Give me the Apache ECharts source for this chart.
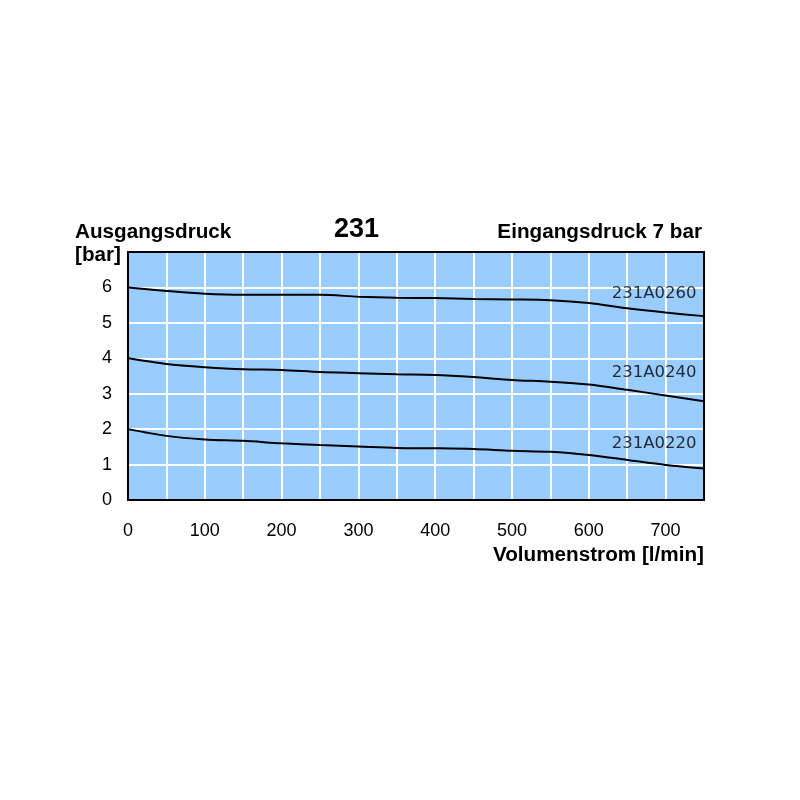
<!DOCTYPE html>
<html><head><meta charset="utf-8">
<script src="https://cdn.jsdelivr.net/npm/echarts@6/dist/echarts.min.js"></script>
<style>html,body{margin:0;padding:0;background:#fff}#c{width:800px;height:800px}</style>
</head><body><div id="c"></div>
<script>
const flow = [0,50,100,150,200,250,300,350,400,450,500,550,600,650,700,750];
const p0260 = [6.0,5.9,5.82,5.79,5.79,5.79,5.74,5.71,5.70,5.67,5.66,5.64,5.56,5.41,5.29,5.19];
const p0240 = [4.0,3.84,3.75,3.69,3.67,3.61,3.58,3.55,3.53,3.47,3.39,3.34,3.26,3.11,2.95,2.79];
const p0220 = [2.0,1.81,1.71,1.67,1.60,1.55,1.51,1.47,1.46,1.44,1.39,1.36,1.27,1.13,0.99,0.89];
const curveNames = ['231A0260','231A0240','231A0220'];
const labelX = [685,685,685];
const labelY = [5.82,3.60,1.58];

const F = 'Arial, "Liberation Sans", sans-serif';
const zip = ys => flow.map((x,i)=>[x,ys[i]]);
const lineSeries = (name, ys) => ({
  name, type:'line', data: zip(ys), smooth:0.3, symbol:'none',
  lineStyle:{color:'#000', width:2}, silent:true, z:3
});
const G = {left:128, top:252, width:576, height:248};
const chart = echarts.init(document.getElementById('c'));
chart.setOption({
  animation:false,
  backgroundColor:'#fff',
  grid:{left:G.left, top:G.top, width:G.width, height:G.height, show:true, backgroundColor:'#99CCFF', borderWidth:0},
  xAxis:{type:'value', min:0, max:750, interval:50,
    axisLine:{show:false}, axisTick:{show:false},
    splitLine:{show:true, lineStyle:{color:'#fff', width:2}},
    axisLabel:{margin:22, fontFamily:F, fontSize:18, color:'#000',
      formatter: v => (v % 100 === 0) ? String(v) : ''}},
  yAxis:{type:'value', min:0, max:7, interval:1,
    axisLine:{show:false}, axisTick:{show:false},
    splitLine:{show:true, lineStyle:{color:'#fff', width:2}},
    axisLabel:{margin:16, fontFamily:F, fontSize:18, color:'#000',
      formatter: v => v === 7 ? '' : String(v)}},
  graphic:[
    {type:'rect', shape:{x:G.left, y:G.top, width:G.width, height:G.height}, z:100,
     style:{fill:'none', stroke:'#000', lineWidth:2}, silent:true},
    {type:'text', left:75, top:222, style:{text:'Ausgangsdruck', font:'bold 20.7px '+F, fill:'#000'}},
    {type:'text', left:75, top:245, style:{text:'[bar]', font:'bold 20.7px '+F, fill:'#000'}},
    {type:'text', left:334, top:216, style:{text:'231', font:'bold 27px '+F, fill:'#000'}},
    {type:'text', right:98, top:222, style:{text:'Eingangsdruck 7 bar', font:'bold 20.7px '+F, fill:'#000'}},
    {type:'text', right:96, top:545, style:{text:'Volumenstrom [l/min]', font:'bold 20.7px '+F, fill:'#000'}}
  ],
  series:[
    lineSeries(curveNames[0], p0260),
    lineSeries(curveNames[1], p0240),
    lineSeries(curveNames[2], p0220),
    {type:'scatter', symbolSize:0, silent:true, z:4,
     data: curveNames.map((n,i)=>({value:[labelX[i], labelY[i]], name:n})),
     label:{show:true, position:'inside', formatter: p => p.name, fontFamily:'"DejaVu Sans", sans-serif', fontSize:16.5, color:'#000'}}
  ]
});
</script></body></html>
